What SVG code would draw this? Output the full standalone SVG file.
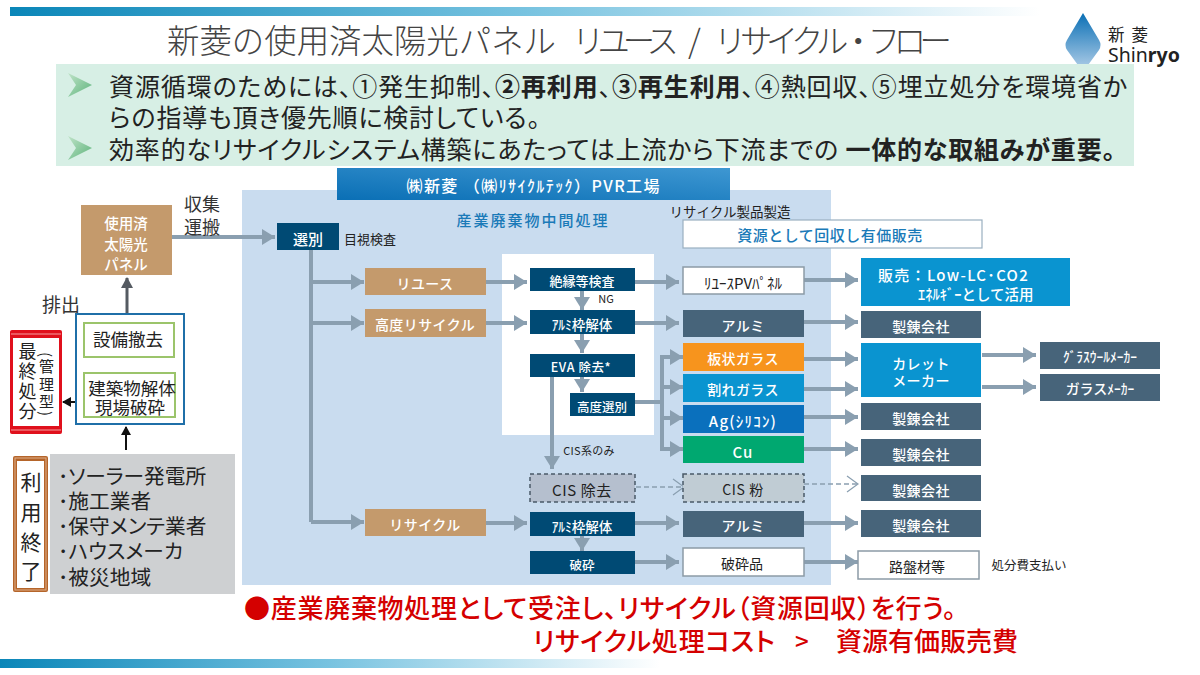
<svg xmlns="http://www.w3.org/2000/svg" width="1200" height="675" viewBox="0 0 1200 675">
<style>
text{font-family:"Noto Sans CJK JP","Noto Sans",sans-serif;text-anchor:middle;dominant-baseline:central}
.w{fill:#fff;font-weight:500}
.t13{font-size:13px}.t14{font-size:14px;letter-spacing:.4px}.t15{font-size:15px}
.navy{fill:#004a74}.tan{fill:#c49a6c}.slate{fill:#47647a}.sky{fill:#0a94d0}
.wb{fill:#fff;stroke:#8c9ba6;stroke-width:1.5}
.dash{stroke:#4a5a68;stroke-width:1.5;stroke-dasharray:4 3}
.ln{fill:none;stroke:#8a9fb0;stroke-width:4}
.lh{fill:none;stroke:#8a9fb0;stroke-width:4;marker-end:url(#ah)}
.ld{fill:none;stroke:#8a9fb0;stroke-width:1.5;stroke-dasharray:5 3;marker-end:url(#oh)}
.title{font-size:32.4px;fill:#444;font-weight:300;text-anchor:start}
.main{font-size:25px;fill:#222;text-anchor:start;font-feature-settings:"palt"}
.red{font-size:26px;fill:#d40000;font-weight:500;text-anchor:start;font-feature-settings:"palt"}
.list{font-size:20.7px;fill:#222;text-anchor:start;font-feature-settings:"palt"}
.site{font-size:17.5px;fill:#222}
.vert{writing-mode:vertical-rl;text-anchor:start;dominant-baseline:auto;fill:#222}
.sp{letter-spacing:1.2px}
</style>
<defs>
<linearGradient id="bar" x1="0" x2="1" y1="0" y2="0"><stop offset="0" stop-color="#0a86b8"/><stop offset="0.5" stop-color="#78c3e0"/><stop offset="1" stop-color="#fff"/></linearGradient>
<linearGradient id="band" x1="0" x2="1" y1="1" y2="0"><stop offset="0" stop-color="#0a6fb5"/><stop offset="1" stop-color="#3e97d2"/></linearGradient>
<linearGradient id="drop" x1="0" x2="0" y1="0" y2="1"><stop offset="0" stop-color="#0a6fb5"/><stop offset="1" stop-color="#b7d2ea"/></linearGradient>
<linearGradient id="chev" x1="0" x2="1" y1="0" y2="1"><stop offset="0" stop-color="#bfe3c8"/><stop offset="1" stop-color="#5cb37a"/></linearGradient>
<marker id="ah" markerUnits="userSpaceOnUse" markerWidth="14" markerHeight="16" refX="13" refY="8" orient="auto"><path d="M0 0L13 8L0 16Z" fill="#8a9fb0"/></marker>
<marker id="oh" markerUnits="userSpaceOnUse" markerWidth="14" markerHeight="18" refX="12" refY="9" orient="auto"><path d="M1 1L12 9L1 17" fill="none" stroke="#8a9fb0" stroke-width="1.2"/></marker>
<marker id="bh" markerUnits="userSpaceOnUse" markerWidth="10" markerHeight="10" refX="8" refY="5" orient="auto"><path d="M0 0L9 5L0 10Z" fill="#111"/></marker>
<marker id="gh" markerUnits="userSpaceOnUse" markerWidth="12" markerHeight="12" refX="10" refY="6" orient="auto"><path d="M0 0L11 6L0 12Z" fill="#555b62"/></marker>
</defs>
<rect width="1200" height="675" fill="#fff"/>
<rect x="10" y="7" width="1030" height="9" fill="url(#bar)"/>
<rect x="0" y="659" width="660" height="9" fill="url(#bar)"/>
<text class="title" x="167" y="38" textLength="389">新菱の使用済太陽光パネル</text>
<text class="title" x="572" y="38" textLength="107">リユース</text>
<text class="title" x="688" y="38">/</text>
<text class="title" x="714" y="38" textLength="238">リサイクル・フロー</text>
<g id="logo">
<path d="M1083 13L1099 40Q1102 45 1099 50L1083 72L1067 50Q1064 45 1067 40Z" fill="url(#drop)"/>
<text fill="#222" style="text-anchor:start"><tspan x="1108" y="34" font-size="16.5" letter-spacing="7">新菱</tspan><tspan x="1108" y="54" font-size="19.5" font-family="Noto Sans">Shin</tspan><tspan font-size="19.5" font-family="Noto Sans" font-weight="700">ryo</tspan></text>
</g>
<g id="intro">
<rect x="56" y="64" width="1078" height="102" fill="#d7efe5"/>
<path d="M68 73L92 85L68 97L76 85Z" fill="url(#chev)"/>
<path d="M68 136L92 148L68 160L76 148Z" fill="url(#chev)"/>
<text class="main" x="109" y="85" textLength="1018">資源循環のためには、①発生抑制、<tspan font-weight="700">②再利用</tspan>、<tspan font-weight="700">③再生利用</tspan>、④熱回収、⑤埋立処分を環境省か</text>
<text class="main" x="109" y="116" textLength="431">らの指導も頂き優先順に検討している。</text>
<text class="main" x="109" y="148" textLength="1006">効率的なリサイクルシステム構築にあたっては上流から下流までの  <tspan font-weight="700">一体的な取組みが重要。</tspan></text>
</g>
<g id="factory">
<rect x="242" y="190" width="589" height="395" fill="#c9dcef"/>
<rect x="337" y="168" width="393" height="32" fill="url(#band)"/>
<text class="w" font-size="16" x="533" y="185" textLength="253">㈱新菱 （㈱ﾘｻｲｸﾙﾃｯｸ）PVR工場</text>
<text x="533" y="219" font-size="15" fill="#1a7ab8" font-weight="500" letter-spacing="2">産業廃棄物中間処理</text>
<text x="730" y="211" font-size="13.5" fill="#222">リサイクル製品製造</text>
<rect x="502" y="254" width="152" height="181" fill="#fff"/>
</g>
<g id="connectors">
<path class="lh" d="M172 237H275"/>
<path d="M127 325V278" fill="none" stroke="#555b62" stroke-width="3" marker-end="url(#gh)"/>
<path d="M83 402H63" fill="none" stroke="#111" stroke-width="2" marker-end="url(#bh)"/>
<path d="M126 450V427" fill="none" stroke="#111" stroke-width="2" marker-end="url(#bh)"/>
<path class="ln" d="M311 250V522"/>
<path class="lh" d="M311 282H364"/><path class="lh" d="M311 323H364"/><path class="lh" d="M311 522H364"/>
<path class="lh" d="M486 282H527"/><path class="lh" d="M486 323H527"/><path class="lh" d="M486 523H527"/>
<path class="lh" d="M582 291V310"/><path class="lh" d="M582 334V353"/><path class="lh" d="M582 377V392"/>
<path class="lh" d="M552 377V469"/><path class="lh" d="M582 536V551"/>
<path class="lh" d="M635 282H679"/><path class="lh" d="M635 323H679"/>
<path class="ln" d="M635 402H662"/><path class="ln" d="M662 355V449"/>
<path class="lh" d="M660 357H683"/><path class="lh" d="M660 387H683"/><path class="lh" d="M660 418H683"/><path class="lh" d="M660 449H683"/>
<path class="ld" d="M636 487H684"/><path class="ld" d="M804 484H858"/>
<path class="lh" d="M635 523H679"/><path class="lh" d="M635 562H679"/>
<path class="lh" d="M804 280H858"/><path class="lh" d="M804 322H858"/><path class="lh" d="M804 359H858"/><path class="lh" d="M804 389H858"/><path class="lh" d="M804 417H858"/><path class="lh" d="M804 449H858"/><path class="lh" d="M804 523H858"/><path class="lh" d="M804 562H858"/>
<path class="lh" d="M982 355H1036"/><path class="lh" d="M982 387H1036"/>
</g>
<g id="n-panel"><rect class="tan" x="81" y="205" width="91" height="70"/><text class="w" font-size="14.5"><tspan x="126" y="222">使用済</tspan><tspan x="126" y="243">太陽光</tspan><tspan x="126" y="263">パネル</tspan></text></g>
<g id="n-transport"><text font-size="18" fill="#333"><tspan x="202" y="203">収集</tspan><tspan x="202" y="226">運搬</tspan></text></g>
<g id="n-discharge"><text x="61" y="303" font-size="19" fill="#333">排出</text></g>
<g id="n-site">
<rect x="76" y="314" width="108" height="110" fill="#fff" stroke="#1f6fa8" stroke-width="2"/>
<rect x="84" y="323" width="90" height="34" fill="#fff" stroke="#9bc46b" stroke-width="2"/>
<rect x="84" y="373" width="91" height="44" fill="#fff" stroke="#9bc46b" stroke-width="2"/>
<text class="site"><tspan x="128" y="338">設備撤去</tspan><tspan x="132" y="387">建築物解体</tspan><tspan x="130" y="406">現場破砕</tspan></text>
</g>
<g id="n-final">
<rect x="10" y="330" width="52" height="104" rx="2" fill="#e0101c"/>
<path d="M11 334H61M11 430H61" stroke="#f6a0a0" stroke-width="1"/>
<rect x="13" y="338" width="46" height="88" fill="#fff"/>
<text class="vert" x="27.5" y="342" font-size="18" textLength="78">最終処分</text>
<text class="vert" x="46.5" y="352" font-size="15" textLength="64">(管理型)</text>
</g>
<g id="n-end">
<rect x="13" y="456" width="35" height="136" rx="2" fill="#b5652a"/>
<rect x="15" y="458" width="31" height="132" fill="none" stroke="#e0b08a" stroke-width="1"/>
<rect x="17" y="461" width="27" height="127" fill="#fff"/>
<text class="vert" x="31" y="472" font-size="21" textLength="110">利用終了</text>
</g>
<g id="n-users">
<rect x="50" y="454" width="185" height="140" fill="#ced0d2"/>
<text class="list"><tspan x="58" y="475">･ソーラー発電所</tspan><tspan x="58" y="500">･施工業者</tspan><tspan x="58" y="525">･保守メンテ業者</tspan><tspan x="58" y="550">･ハウスメーカ</tspan><tspan x="58" y="576">･被災地域</tspan></text>
</g>
<g id="n-sort"><rect class="navy" x="277" y="223" width="62" height="27"/><text class="w t15" x="308" y="238">選別</text></g>
<g id="n-visual"><text x="370" y="238" font-size="13" fill="#222">目視検査</text></g>
<g id="n-reuse"><rect class="tan" x="365" y="268" width="121" height="27"/><text class="w t14" x="425" y="283">リユース</text></g>
<g id="n-adv"><rect class="tan" x="365" y="309" width="121" height="28"/><text class="w t14" x="425" y="324">高度リサイクル</text></g>
<g id="n-recycle"><rect class="tan" x="365" y="509" width="121" height="27"/><text class="w t14" x="425" y="524">リサイクル</text></g>
<g id="n-insul"><rect class="navy" x="530" y="268" width="105" height="23"/><text class="w" font-size="13" x="582" y="280">絶縁等検査</text></g>
<g id="n-ng"><text x="606" y="298" font-size="11" fill="#222">NG</text></g>
<g id="n-frame1"><rect class="navy" x="530" y="310" width="105" height="24"/><text class="w" font-size="13.5" x="582" y="324">ｱﾙﾐ枠解体</text></g>
<g id="n-eva"><rect class="navy" x="530" y="354" width="105" height="23"/><text class="w" font-size="12.5" x="581" y="366" letter-spacing=".6">EVA 除去*</text></g>
<g id="n-advsort"><rect class="navy" x="570" y="393" width="65" height="23"/><text class="w" font-size="12.5" x="602" y="406">高度選別</text></g>
<g id="n-cisonly"><text x="589" y="450" font-size="11" fill="#222" letter-spacing=".3">CIS系のみ</text></g>
<g id="n-cisrem"><rect x="530" y="474" width="105" height="28" fill="#b5bfce" class="dash"/><text x="582" y="489" font-size="15" fill="#222" letter-spacing=".6">CIS 除去</text></g>
<g id="n-frame2"><rect class="navy" x="530" y="512" width="105" height="24"/><text class="w" font-size="13.5" x="582" y="526">ｱﾙﾐ枠解体</text></g>
<g id="n-crush"><rect class="navy" x="530" y="551" width="105" height="23"/><text class="w" font-size="12.5" x="582" y="564">破砕</text></g>
<g id="n-resource"><rect x="683" y="220" width="299" height="28" fill="#fff" stroke="#9ab0c0" stroke-width="1.2"/><text x="830" y="234" font-size="15" fill="#1a7ab8" font-weight="500" letter-spacing=".5">資源として回収し有価販売</text></g>
<g id="n-reusepv"><rect class="wb" x="683" y="267" width="121" height="27"/><text x="743" y="282" font-size="15" fill="#222">ﾘﾕｰｽPVﾊﾟﾈﾙ</text></g>
<g id="n-al1"><rect class="slate" x="683" y="310" width="121" height="27"/><text class="w t14" x="743" y="325">アルミ</text></g>
<g id="n-plate"><rect x="683" y="343" width="121" height="28" fill="#f7941d"/><text class="w t14" x="743" y="358">板状ガラス</text></g>
<g id="n-broken"><rect class="sky" x="683" y="374" width="121" height="28"/><text class="w t14" x="743" y="389">割れガラス</text></g>
<g id="n-ag"><rect x="683" y="405" width="121" height="28" fill="#0a70bd"/><text class="w sp" font-size="15" x="743" y="420">Ag(ｼﾘｺﾝ)</text></g>
<g id="n-cu"><rect x="683" y="436" width="121" height="27" fill="#00a870"/><text class="w sp" font-size="15" x="743" y="451">Cu</text></g>
<g id="n-cispow"><rect x="683" y="474" width="121" height="28" fill="#c0ccd4" class="dash"/><text x="743" y="489" font-size="14" fill="#222" letter-spacing=".6">CIS 粉</text></g>
<g id="n-al2"><rect class="slate" x="683" y="511" width="121" height="26"/><text class="w t14" x="743" y="525">アルミ</text></g>
<g id="n-crushed"><rect class="wb" x="683" y="548" width="121" height="28"/><text x="742" y="563" font-size="14" fill="#222">破砕品</text></g>
<g id="n-sale"><rect class="sky" x="861" y="258" width="209" height="48"/><text class="w" style="text-anchor:start"><tspan x="878" y="274" font-size="15" letter-spacing="1.3">販売：Low-LC･CO2</tspan><tspan x="918" y="293" font-size="14.5">ｴﾈﾙｷﾞｰとして活用</tspan></text></g>
<g id="n-sm1"><rect class="slate" x="861" y="311" width="120" height="27"/><text class="w t14" x="921" y="326">製錬会社</text></g>
<g id="n-cullet"><rect class="sky" x="861" y="343" width="120" height="54"/><text class="w t14"><tspan x="921" y="363">カレット</tspan><tspan x="921" y="380">メーカー</tspan></text></g>
<g id="n-sm2"><rect class="slate" x="861" y="403" width="120" height="27"/><text class="w t14" x="921" y="418">製錬会社</text></g>
<g id="n-sm3"><rect class="slate" x="861" y="439" width="120" height="27"/><text class="w t14" x="921" y="454">製錬会社</text></g>
<g id="n-sm4"><rect class="slate" x="861" y="475" width="120" height="26"/><text class="w t14" x="921" y="490">製錬会社</text></g>
<g id="n-sm5"><rect class="slate" x="861" y="510" width="120" height="27"/><text class="w t14" x="921" y="525">製錬会社</text></g>
<g id="n-road"><rect class="wb" x="858" y="551" width="121" height="28"/><text x="917" y="566" font-size="14" fill="#222">路盤材等</text></g>
<g id="n-fee"><text x="1029" y="564" font-size="12.5" fill="#222">処分費支払い</text></g>
<g id="n-wool"><rect class="slate" x="1040" y="342" width="120" height="27"/><text class="w" font-size="13.5" x="1100" y="356">ｸﾞﾗｽｳｰﾙﾒｰｶｰ</text></g>
<g id="n-glass"><rect class="slate" x="1040" y="374" width="120" height="27"/><text class="w" x="1100" y="388" font-size="14"><tspan>ガラス</tspan><tspan font-size="13.5">ﾒｰｶｰ</tspan></text></g>
<g id="notes">
<text class="red" x="244" y="606" textLength="712">●産業廃棄物処理として受注し、リサイクル（資源回収）を行う。</text>
<text class="red" y="639"><tspan x="533" textLength="242">リサイクル処理コスト</tspan><tspan x="795" font-size="24">&gt;</tspan><tspan x="836">資源有価販売費</tspan></text>
</g>
</svg>
